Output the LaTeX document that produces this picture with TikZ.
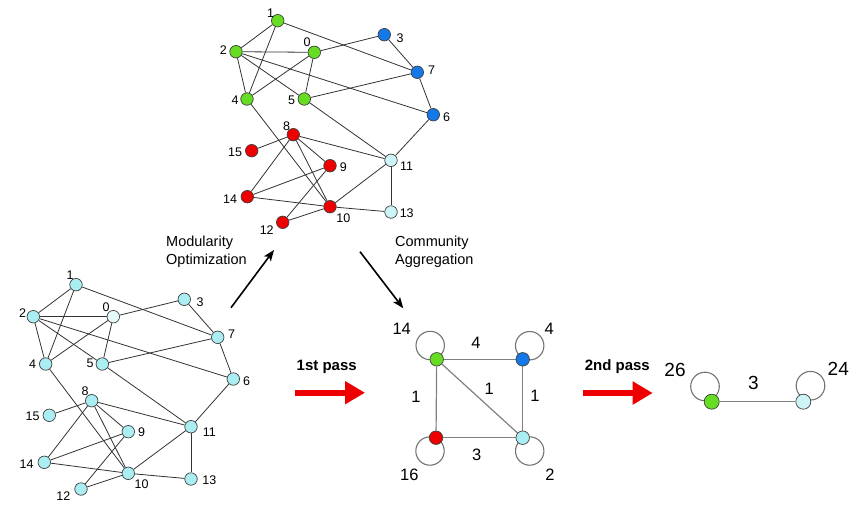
\documentclass[tikz,border=0pt]{standalone}
\usepackage{fontspec}
\setmainfont{Liberation Sans}
\usetikzlibrary{arrows.meta}
\pgfdeclarelayer{bg}
\pgfsetlayers{bg,main}
\definecolor{cgreen}{RGB}{102,221,34}
\definecolor{cblue}{RGB}{20,120,232}
\definecolor{cred}{RGB}{238,0,0}
\definecolor{ccyan}{RGB}{170,238,244}
\definecolor{clcyan}{RGB}{205,245,248}
\definecolor{cwcyan}{RGB}{228,250,250}
\begin{document}
\begin{tikzpicture}[x=1pt,y=-1pt,
  v/.style={circle,draw=black!75,line width=0.7pt,inner sep=0pt,minimum size=12.5pt},
  mv/.style={circle,draw=black!75,line width=0.7pt,inner sep=0pt,minimum size=13.5pt},
  rv/.style={circle,draw=black!75,line width=0.7pt,inner sep=0pt,minimum size=15pt},
  lbl/.style={inner sep=0pt,font=\fontsize{12.5}{14}\selectfont},
  mlbl/.style={inner sep=0pt,font=\fontsize{16.5}{18}\selectfont},
  rlbl/.style={inner sep=0pt,font=\fontsize{19}{21}\selectfont},
  edge/.style={draw=black!80,line width=0.8pt},
  medge/.style={draw=black!50,line width=1.2pt},
  loopc/.style={draw=black!55,line width=1.1pt},
  txt/.style={inner sep=0pt,align=left,font=\fontsize{14.5}{18}\selectfont},
  passtxt/.style={inner sep=0pt,font=\bfseries\fontsize{15}{17}\selectfont},
  redarrow/.style={draw=cred,line width=6pt,-{Triangle[length=20pt,width=22pt]}},
  blackarrow/.style={draw=black,line width=1.6pt,-{Stealth[length=11pt,width=8.5pt,inset=2.5pt]}}
]
\useasboundingbox (0,0) rectangle (865,515);

% ---------- top graph ----------
\node[v,fill=cgreen] (a1) at (277.7,20.7) {};
\node[v,fill=cgreen] (a2) at (236,51.7) {};
\node[v,fill=cgreen] (a0) at (314.3,52.3) {};
\node[v,fill=cblue] (a3) at (384.3,34.7) {};
\node[v,fill=cblue] (a7) at (417.3,72.3) {};
\node[v,fill=cgreen] (a4) at (247,99) {};
\node[v,fill=cgreen] (a5) at (304.3,99) {};
\node[v,fill=cblue] (a6) at (433.3,114.7) {};
\node[v,fill=cred] (a8) at (293.3,134.7) {};
\node[v,fill=cred] (a15) at (251.7,150.7) {};
\node[v,fill=cred] (a9) at (330,165.7) {};
\node[v,fill=clcyan] (a11) at (391,160.3) {};
\node[v,fill=cred] (a14) at (247.3,196.7) {};
\node[v,fill=cred] (a10) at (330,206.7) {};
\node[v,fill=clcyan] (a13) at (391,212) {};
\node[v,fill=cred] (a12) at (282.7,222.3) {};

\node[lbl] (la1) at (270.7,12.7) {1};
\node[lbl] (la2) at (223.3,50) {2};
\node[lbl] (la0) at (307,42.3) {0};
\node[lbl] (la3) at (400,37.7) {3};
\node[lbl] (la7) at (431.7,70) {7};
\node[lbl] (la4) at (235,100) {4};
\node[lbl] (la5) at (291.7,100) {5};
\node[lbl] (la6) at (446.7,116.7) {6};
\node[lbl] (la8) at (286.7,126) {8};
\node[lbl] (la15) at (235,152.3) {15};
\node[lbl] (la9) at (343.3,166.7) {9};
\node[lbl] (la11) at (406.7,165.7) {11};
\node[lbl] (la14) at (230,198.7) {14};
\node[lbl] (la10) at (343.3,218.3) {10};
\node[lbl] (la13) at (406.7,212.7) {13};
\node[lbl] (la12) at (266.7,230) {12};

% ---------- bottom-left graph ----------
\node[v,fill=ccyan] (b1) at (76,284.7) {};
\node[v,fill=ccyan] (b2) at (33.3,316.7) {};
\node[v,fill=cwcyan] (b0) at (113.3,316.7) {};
\node[v,fill=ccyan] (b3) at (184.3,299.3) {};
\node[v,fill=ccyan] (b7) at (217.7,337.3) {};
\node[v,fill=ccyan] (b4) at (45.7,364) {};
\node[v,fill=ccyan] (b5) at (102.3,364) {};
\node[v,fill=ccyan] (b6) at (233.3,379) {};
\node[v,fill=ccyan] (b8) at (91.7,400.7) {};
\node[v,fill=ccyan] (b15) at (49.3,415.3) {};
\node[v,fill=ccyan] (b9) at (128.3,431.7) {};
\node[v,fill=ccyan] (b11) at (191,426.7) {};
\node[v,fill=ccyan] (b14) at (44.3,462.3) {};
\node[v,fill=ccyan] (b10) at (128.3,473.3) {};
\node[v,fill=ccyan] (b13) at (191,479) {};
\node[v,fill=ccyan] (b12) at (81,489) {};

\node[lbl] (lb1) at (70,275) {1};
\node[lbl] (lb2) at (22.7,313.3) {2};
\node[lbl] (lb0) at (106,306.7) {0};
\node[lbl] (lb3) at (200,301.7) {3};
\node[lbl] (lb7) at (231.7,334) {7};
\node[lbl] (lb4) at (32.7,364.3) {4};
\node[lbl] (lb5) at (90,363.3) {5};
\node[lbl] (lb6) at (246.7,380.7) {6};
\node[lbl] (lb8) at (85,391) {8};
\node[lbl] (lb15) at (32.7,416) {15};
\node[lbl] (lb9) at (141.7,431.7) {9};
\node[lbl] (lb11) at (209.3,431.7) {11};
\node[lbl] (lb14) at (26.7,464) {14};
\node[lbl] (lb10) at (141.7,484) {10};
\node[lbl] (lb13) at (209.3,480) {13};
\node[lbl] (lb12) at (63.3,495.7) {12};

\begin{pgfonlayer}{bg}
\foreach \u/\w in {1/2,1/4,1/7,2/0,2/4,2/5,2/6,0/3,0/4,0/5,3/7,7/6,5/7,4/10,5/11,6/11,
                   8/15,8/11,8/14,8/9,8/10,9/14,9/12,14/10,10/12,10/11,10/13,11/13}{
  \draw[edge] (a\u) -- (a\w);
  \draw[edge] (b\u) -- (b\w);
}
\end{pgfonlayer}

% ---------- middle graph ----------
\node[mv,fill=cgreen] (m1) at (436.7,359.3) {};
\node[mv,fill=cblue] (m2) at (522.7,359.3) {};
\node[mv,fill=cred] (m3) at (436,437.7) {};
\node[mv,fill=ccyan] (m4) at (522.7,437.7) {};
\begin{pgfonlayer}{bg}
\draw[medge] (m1) -- (m2);
\draw[medge] (m1) -- (m3);
\draw[medge] (m1) -- (m4);
\draw[medge] (m2) -- (m4);
\draw[medge] (m3) -- (m4);
\draw[loopc] ([shift={(-6.5,-13.8)}]m1.center) circle (14.2);
\draw[loopc] ([shift={(7,-13.6)}]m2.center) circle (14.2);
\draw[loopc] ([shift={(-6,13.3)}]m3.center) circle (14.2);
\draw[loopc] ([shift={(7,13.3)}]m4.center) circle (14.2);
\end{pgfonlayer}
\node[mlbl] (lm14) at (401.7,329.3) {14};
\node[mlbl] (lm4a) at (549.3,329.3) {4};
\node[mlbl] (lm4b) at (476,343.3) {4};
\node[mlbl] (lm1a) at (416,396.7) {1};
\node[mlbl] (lm1b) at (489.3,389.3) {1};
\node[mlbl] (lm1c) at (535,396) {1};
\node[mlbl] (lm3) at (476.7,455) {3};
\node[mlbl] (lm16) at (409.3,475) {16};
\node[mlbl] (lm2) at (550,475) {2};

% ---------- right graph ----------
\node[rv,fill=cgreen] (r1) at (711.7,401.7) {};
\node[rv,fill=clcyan] (r2) at (803.3,401.7) {};
\begin{pgfonlayer}{bg}
\draw[medge] (r1) -- (r2);
\draw[loopc] ([shift={(-6.7,-15.2)}]r1.center) circle (14.3);
\draw[loopc] ([shift={(7.2,-16)}]r2.center) circle (14.3);
\end{pgfonlayer}
\node[rlbl] (lr26) at (675,370) {26};
\node[rlbl] (lr3) at (753.3,382.7) {3};
\node[rlbl] (lr24) at (838.3,369.3) {24};

% ---------- texts and arrows ----------
\node[txt,anchor=west] (mo) at (166,252) {Modularity\\Optimization};
\node[txt,anchor=west] (ca) at (395,252) {Community\\Aggregation};
\coordinate (mos) at (231,307.7);
\coordinate (moe) at (274,250);
\draw[blackarrow] (mos) -- (moe);
\coordinate (cas) at (360,251.7);
\coordinate (cae) at (403.3,308.3);
\draw[blackarrow] (cas) -- (cae);

\node[passtxt] (p1t) at (326.7,366.7) {1st pass};
\coordinate (p1s) at (295,392.7);
\coordinate (p1e) at (365,392.7);
\draw[redarrow] (p1s) -- (p1e);

\node[passtxt] (p2t) at (617.3,366.7) {2nd pass};
\coordinate (p2s) at (583,393);
\coordinate (p2e) at (652.7,393);
\draw[redarrow] (p2s) -- (p2e);
\end{tikzpicture}
\end{document}
